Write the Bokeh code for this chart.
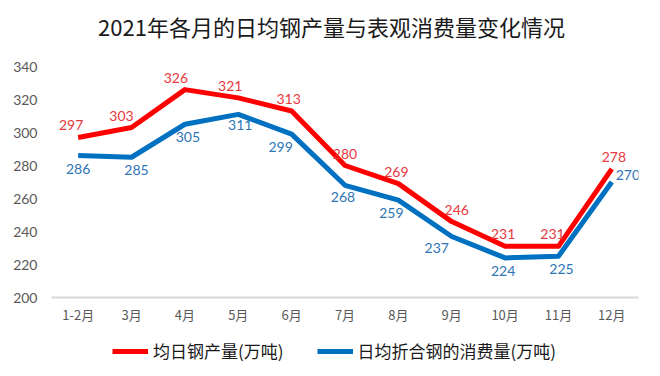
from bokeh.plotting import figure
from bokeh.models import ColumnDataSource, Legend, LegendItem, FactorRange, Label, Range1d
from bokeh.layouts import column
from bokeh.core.properties import value
from bokeh.embed import file_html
from bokeh.resources import INLINE

months = ["1-2月", "3月", "4月", "5月", "6月", "7月", "8月", "9月", "10月", "11月", "12月"]
production = [297, 303, 326, 321, 313, 280, 269, 246, 231, 231, 278]
consumption = [286, 285, 305, 311, 299, 268, 259, 237, 224, 225, 270]
y_ticks = [200, 220, 240, 260, 280, 300, 320, 340]
title_text = "2021年各月的日均钢产量与表观消费量变化情况"
name_prod = "均日钢产量(万吨)"
name_cons = "日均折合钢的消费量(万吨)"

# label nudges in screen pixels (layout only)
prod_dx = [-7, -10, -9, -8, -3, 0, -2, 5, -2, -6, 2]
cons_dx = [0, 5, 3, 2, -11, -2, -7, -15, -2, 3, 16]
cons_dy = [13, 13, 13, 11, 13, 12, 13, 12, 13, 13, -7]

RED = "#ff0000"
BLUE = "#0070c0"
RED_TXT = "#e8383d"
BLUE_TXT = "#2e75b6"
CJK = "Noto Sans CJK SC"
NUM = "Lato"
W = 660

# --- title strip ---
pt = figure(width=W, height=50, x_axis_location=None, y_axis_location=None,
            min_border=0, output_backend="svg", toolbar_location=None)
pt.outline_line_color = None
pt.xgrid.grid_line_color = None
pt.ygrid.grid_line_color = None
pt.add_layout(Label(x=280, y=25, x_units="screen", y_units="screen", text=title_text,
                    text_font=CJK, text_font_size="22px", text_color="#1a1a1a",
                    text_align="center", text_baseline="middle"))

# --- main chart ---
p = figure(x_range=FactorRange(*months), y_range=(200, 340),
           frame_width=587, frame_height=231,
           min_border_left=51, min_border_right=22, min_border_top=16, min_border_bottom=31,
           output_backend="svg", toolbar_location=None)
p.outline_line_color = None
p.xgrid.grid_line_color = None
p.ygrid.grid_line_color = None

p.yaxis.ticker = y_ticks
p.yaxis.axis_line_color = None
p.yaxis.major_tick_line_color = None
p.yaxis.minor_tick_line_color = None
p.yaxis.major_label_text_font = NUM
p.yaxis.major_label_text_font_size = "14px"
p.yaxis.major_label_text_color = "#595959"
p.yaxis.major_label_standoff = 8

p.xaxis.axis_line_color = "#d9d9d9"
p.xaxis.axis_line_width = 2
p.xaxis.major_tick_line_color = None
p.xaxis.minor_tick_line_color = None
p.xaxis.major_label_text_font = CJK
p.xaxis.major_label_text_font_size = "13px"
p.xaxis.major_label_text_color = "#595959"
p.xaxis.major_label_standoff = 1

src = ColumnDataSource(dict(m=months, prod=production, cons=consumption,
                            prod_s=[str(v) for v in production],
                            cons_s=[str(v) for v in consumption],
                            pdx=prod_dx, cdx=cons_dx, cdy=cons_dy))

p.line("m", "prod", source=src, line_color=RED, line_width=5, line_join="round")
p.line("m", "cons", source=src, line_color=BLUE, line_width=5, line_join="round")

p.text("m", "prod", text="prod_s", source=src, text_font=value(NUM), text_font_size="14px",
       text_color=RED_TXT, text_align="center", text_baseline="alphabetic",
       x_offset="pdx", y_offset=-12)
p.text("m", "cons", text="cons_s", source=src, text_font=value(NUM), text_font_size="14px",
       text_color=BLUE_TXT, text_align="center", text_baseline="alphabetic",
       x_offset="cdx", y_offset="cdy")

# --- legend strip (series lines drawn out of view; only their legend swatches show) ---
pl = figure(width=W, height=48, x_range=FactorRange(*months), y_range=Range1d(0, 1),
            x_axis_location=None, y_axis_location=None,
            min_border=0, output_backend="svg", toolbar_location=None)
pl.outline_line_color = None
pl.xgrid.grid_line_color = None
pl.ygrid.grid_line_color = None
lr1 = pl.line("m", "prod", source=src, line_color=RED, line_width=5)
lr2 = pl.line("m", "cons", source=src, line_color=BLUE, line_width=5)
legend = Legend(items=[LegendItem(label=name_prod, renderers=[lr1]),
                       LegendItem(label=name_cons, renderers=[lr2])],
                orientation="horizontal", location=(61, 13),
                glyph_width=36, glyph_height=20, label_standoff=5, spacing=33,
                padding=0, margin=0, border_line_color=None, background_fill_alpha=0,
                label_text_font=CJK, label_text_font_size="17px", label_text_color="#1a1a1a")
pl.add_layout(legend, "center")

layout = column(pt, p, pl, spacing=0)
open("out.html", "w").write(file_html(layout, INLINE))
